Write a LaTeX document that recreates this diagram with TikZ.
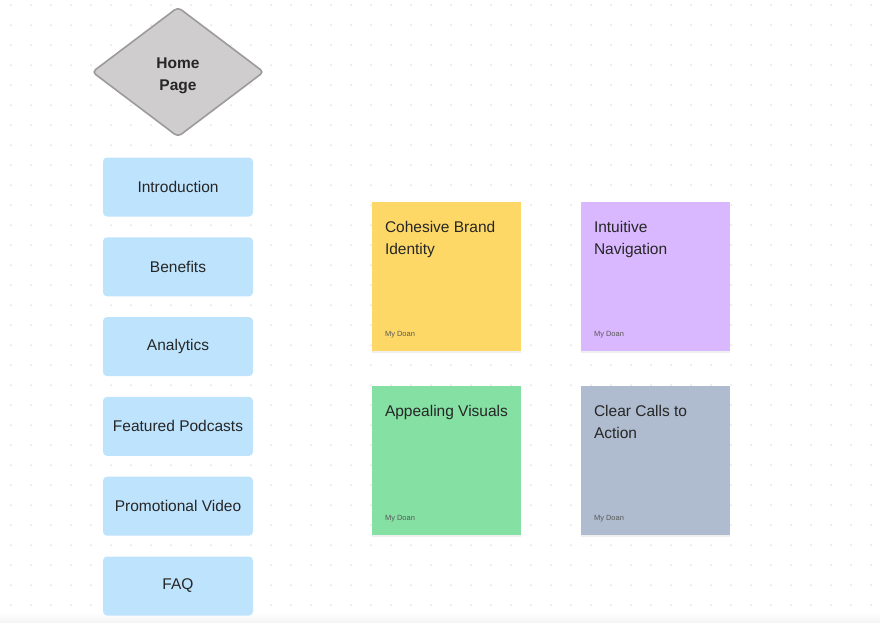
\documentclass[tikz,border=0pt]{standalone}
\usepackage{fontspec}
\setmainfont{Liberation Sans}
\usepackage{xcolor}
\usetikzlibrary{shapes.geometric,positioning,shadows}
\definecolor{diamondfill}{HTML}{CFCDCE}
\definecolor{diamondedge}{HTML}{9B9B9B}
\definecolor{navblue}{HTML}{BEE3FD}
\definecolor{stickyyellow}{HTML}{FED867}
\definecolor{stickypurple}{HTML}{D9B8FF}
\definecolor{stickygreen}{HTML}{85E0A3}
\definecolor{stickyslate}{HTML}{AFBCCF}
\definecolor{textdark}{HTML}{262626}
\definecolor{griddot}{HTML}{CFCFCF}

\begin{document}
\begin{tikzpicture}[
		x=1pt, y=-1pt,
		GridDot/.style={fill=griddot},
		HomeDiamond/.style={diamond, draw=diamondedge, fill=diamondfill, line width=1.6pt,
			rounded corners=4pt, minimum width=172pt, minimum height=130pt, inner sep=0pt},
		HomeLabel/.style={inner sep=0pt, align=center, text=textdark,
			font=\bfseries\fontsize{15.5}{22}\selectfont},
		NavBox/.style={rectangle, fill=navblue, rounded corners=4pt, minimum width=150pt,
			minimum height=59pt, inner sep=0pt, text=textdark, font=\fontsize{15.5}{18}\selectfont},
		StickyNote/.style={rectangle, minimum width=149pt, minimum height=149pt, inner sep=0pt,
			drop shadow={shadow xshift=0pt, shadow yshift=-2pt, opacity=0.12}},
		StickyTitle/.style={anchor=north west, inner sep=0pt, align=left, text=textdark,
			font=\fontsize{15.5}{22.5}\selectfont},
		StickyAuthor/.style={anchor=base west, inner sep=0pt, text=black!65,
			font=\fontsize{7.5}{9}\selectfont},
		node distance=20.4pt
		]

		\useasboundingbox (0,0) rectangle (880,622);
		\fill[white] (0,0) rectangle (880,622);
		\shade[top color=white, bottom color=black!4] (0,612) rectangle (880,622);

		% dotted canvas
		\foreach \gx in {11,31,...,871}
		\foreach \gy in {5,25,...,605}
		\fill[GridDot] (\gx,\gy) circle (0.75pt);

		\node[HomeDiamond] (home) at (178,72) {};
		\node[HomeLabel] (homelabel) at ([yshift=-3.5pt]home.center) {Home\\Page};

		\node[NavBox] (intro) at (178,187) {Introduction};
		\node[NavBox, below=of intro] (benefits) {Benefits};
		\node[NavBox, below=of benefits] (analytics) {Analytics};
		\node[NavBox, below=of analytics] (podcasts) {Featured Podcasts};
		\node[NavBox, below=of podcasts] (promo) {Promotional Video};
		\node[NavBox, below=of promo] (faq) {FAQ};

		% sticky notes
		\node[StickyNote, fill=stickyyellow] (brand) at (446.5,276.5) {};
		\node[StickyNote, fill=stickypurple] (navig) at (655.5,276.5) {};
		\node[StickyNote, fill=stickygreen] (visuals) at (446.5,460.5) {};
		\node[StickyNote, fill=stickyslate] (calls) at (655.5,460.5) {};

		\node[StickyTitle] (brandtitle) at ([xshift=13pt,yshift=-19pt]brand.north west) {Cohesive Brand\\Identity};
		\node[StickyTitle] (navigtitle) at ([xshift=13pt,yshift=-19pt]navig.north west) {Intuitive\\Navigation};
		\node[StickyTitle] (visualstitle) at ([xshift=13pt,yshift=-19pt]visuals.north west) {Appealing Visuals};
		\node[StickyTitle] (callstitle) at ([xshift=13pt,yshift=-19pt]calls.north west) {Clear Calls to\\Action};

		\foreach \n in {brand,navig,visuals,calls}
		\node[StickyAuthor] (\n author) at ([xshift=13pt,yshift=15pt]\n.south west) {My Doan};

\end{tikzpicture}
\end{document}
